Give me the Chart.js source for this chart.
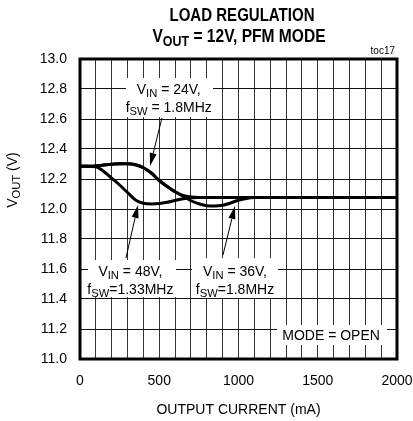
<!DOCTYPE html>
<html>
<head>
<meta charset="utf-8">
<script src="https://cdn.jsdelivr.net/npm/chart.js@4/dist/chart.umd.min.js"></script>
<style>
    html, body { margin: 0; padding: 0; background: #fff; }
</style>
</head>
<body>
<canvas id="chart1" width="413" height="421"></canvas>
<script>
// output current (mA) shared by every curve
const currents = [0, 50, 100, 150, 200, 250, 300, 350, 400, 450, 500, 550, 600, 650, 700, 750,
    800, 850, 900, 950, 1000, 1050, 1100, 1150, 1200, 1500, 2000]

// VOUT (V)
const vin24 = [12.285, 12.285, 12.287, 12.293, 12.298, 12.302, 12.302, 12.295, 12.275, 12.24, 12.19,
    12.15, 12.115, 12.09, 12.08, 12.077, 12.077, 12.077, 12.077, 12.077, 12.077, 12.077, 12.077,
    12.077, 12.077, 12.077, 12.077]
const vin36 = [12.285, 12.285, 12.287, 12.293, 12.298, 12.302, 12.302, 12.295, 12.275, 12.24, 12.19,
    12.15, 12.115, 12.085, 12.055, 12.035, 12.022, 12.02, 12.025, 12.04, 12.058, 12.07, 12.076,
    12.077, 12.077, 12.077, 12.077]
const vin48 = [12.285, 12.285, 12.282, 12.25, 12.205, 12.16, 12.11, 12.06, 12.038, 12.033, 12.036,
    12.045, 12.057, 12.068, 12.075, 12.077, 12.077, 12.077, 12.077, 12.077, 12.077, 12.077, 12.077,
    12.077, 12.077, 12.077, 12.077]

const xLabels = [0, 500, 1000, 1500, 2000]

const FONT = "'Liberation Sans Narrow', 'Arial Narrow', 'Liberation Sans', Arial, sans-serif"

// callouts, anchored in data units (mA, V)
const callouts = [
    { box: [290, 839, 12.873, 12.613],
      lines: [[["V"], ["IN", 1], [" = 24V,"]], [["f"], ["SW", 1], [" = 1.8MHz"]]],
      at: [560, 12.80], arrow: [517, 12.607, 442, 12.287] },
    { box: [50, 606, 11.66, 11.413],
      lines: [[["V"], ["IN", 1], [" = 48V,"]], [["f"], ["SW", 1], ["=1.33MHz"]]],
      at: [318, 11.587], arrow: [290, 11.673, 366, 12.027] },
    { box: [707, 1249, 11.673, 11.407],
      lines: [[["V"], ["IN", 1], [" = 36V,"]], [["f"], ["SW", 1], ["=1.8MHz"]]],
      at: [978, 11.587], arrow: [902, 11.693, 978, 12.02] },
    { box: [1243, 1937, 11.227, 11.093],
      lines: [[["MODE = OPEN"]]],
      at: [1584, 11.16] },
]

function richWidth(ctx, parts, size, weight) {
    let w = 0
    for (const p of parts) {
        ctx.font = weight + " " + (p[1] ? size * 0.8 : size) + "px " + FONT
        w += ctx.measureText(p[0]).width
    }
    return w
}

function drawRich(ctx, parts, cx, cy, size, weight, fitW) {
    const w = richWidth(ctx, parts, size, weight)
    const s = fitW ? fitW / w : 1
    ctx.save()
    ctx.translate(cx, cy)
    ctx.scale(s, 1)
    ctx.fillStyle = "#000"
    ctx.textBaseline = "alphabetic"
    ctx.textAlign = "left"
    let x = -w / 2
    for (const p of parts) {
        const sz = p[1] ? size * 0.8 : size
        ctx.font = weight + " " + sz + "px " + FONT
        ctx.fillText(p[0], x, size * 0.36 + (p[1] ? size * 0.22 : 0))
        x += ctx.measureText(p[0]).width
    }
    ctx.restore()
}

function arrow(ctx, x1, y1, x2, y2) {
    const a = Math.atan2(y2 - y1, x2 - x1)
    const len = 13, half = 3.5
    ctx.save()
    ctx.strokeStyle = "#000"
    ctx.fillStyle = "#000"
    ctx.lineWidth = 1
    ctx.beginPath()
    ctx.moveTo(x1, y1)
    ctx.lineTo(x2 - Math.cos(a) * len, y2 - Math.sin(a) * len)
    ctx.stroke()
    ctx.beginPath()
    ctx.moveTo(x2, y2)
    ctx.lineTo(x2 - Math.cos(a) * len - Math.sin(a) * half, y2 - Math.sin(a) * len + Math.cos(a) * half)
    ctx.lineTo(x2 - Math.cos(a) * len + Math.sin(a) * half, y2 - Math.sin(a) * len - Math.cos(a) * half)
    ctx.closePath()
    ctx.fill()
    ctx.restore()
}

const decor = {
    id: "decor",
    beforeDatasetsDraw(chart) {
        const { ctx, scales: { x, y } } = chart
        ctx.save()
        ctx.fillStyle = "#fff"
        for (const c of callouts) {
            const [x1, x2, y1, y2] = c.box
            const l = x.getPixelForValue(x1), r = x.getPixelForValue(x2)
            const t = y.getPixelForValue(y1), b = y.getPixelForValue(y2)
            ctx.fillRect(l, t, r - l, b - t)
        }
        ctx.restore()
    },
    afterDraw(chart) {
        const { ctx, chartArea: a, scales: { x, y } } = chart

        // frame
        ctx.save()
        ctx.strokeStyle = "#000"
        ctx.lineWidth = 3
        ctx.strokeRect(a.left, a.top, a.right - a.left, a.bottom - a.top)
        ctx.restore()

        // callout texts and arrows
        for (const c of callouts) {
            const cx = x.getPixelForValue(c.at[0])
            let cy = y.getPixelForValue(c.at[1])
            for (const line of c.lines) {
                drawRich(ctx, line, cx, cy, 14, "normal")
                cy += 18
            }
            if (c.arrow) {
                arrow(ctx, x.getPixelForValue(c.arrow[0]), y.getPixelForValue(c.arrow[1]),
                    x.getPixelForValue(c.arrow[2]), y.getPixelForValue(c.arrow[3]))
            }
        }

        // titles
        drawRich(ctx, [["LOAD REGULATION"]], 242, 15, 18, "bold", 145)
        drawRich(ctx, [["V"], ["OUT", 1], [" = 12V, PFM MODE"]], 239, 36, 18, "bold", 173)

        // small figure tag
        ctx.save()
        ctx.font = "10px " + FONT
        ctx.fillStyle = "#000"
        ctx.textAlign = "right"
        ctx.textBaseline = "middle"
        ctx.fillText("toc17", a.right - 2, a.top - 8)
        ctx.restore()

        // y axis title
        ctx.save()
        ctx.translate(12, 180)
        ctx.rotate(-Math.PI / 2)
        drawRich(ctx, [["V"], ["OUT", 1], [" (V)"]], 0, 0, 14, "normal")
        ctx.restore()

        // x axis title
        drawRich(ctx, [["OUTPUT CURRENT (mA)"]], (a.left + a.right) / 2, 409, 14, "normal")
    }
}

function series(vals) {
    return currents.map((c, i) => ({ x: c, y: vals[i] }))
}

const lineStyle = {
    borderColor: "#000",
    borderWidth: 3,
    pointRadius: 0,
    fill: false,
    cubicInterpolationMode: "monotone",
}

new Chart(document.getElementById("chart1").getContext("2d"), {
    type: "line",
    data: {
        datasets: [
            { label: "VIN = 24V", data: series(vin24), ...lineStyle },
            { label: "VIN = 36V", data: series(vin36), ...lineStyle },
            { label: "VIN = 48V", data: series(vin48), ...lineStyle },
        ]
    },
    options: {
        responsive: false,
        animation: false,
        devicePixelRatio: 1,
        layout: { padding: { top: 59, right: 16, left: 0, bottom: 0 } },
        plugins: {
            legend: { display: false },
            tooltip: { enabled: false },
        },
        scales: {
            x: {
                type: "linear",
                min: 0,
                max: 2000,
                afterFit(s) {
                    s.height = 62
                    s.paddingLeft = 0
                    s.paddingRight = 0
                },
                border: { display: false },
                grid: { color: "#333", lineWidth: 1, drawTicks: false },
                ticks: {
                    stepSize: 100,
                    autoSkip: false,
                    maxRotation: 0,
                    padding: 14,
                    color: "#000",
                    font: { family: FONT, size: 14 },
                    callback: v => xLabels.includes(v) ? String(v) : "",
                },
            },
            y: {
                min: 11,
                max: 13,
                afterFit(s) { s.width = 80 },
                border: { display: false },
                grid: { color: "#111", lineWidth: 1, drawTicks: false },
                ticks: {
                    stepSize: 0.2,
                    padding: 13,
                    color: "#000",
                    font: { family: FONT, size: 14 },
                    callback: v => v.toFixed(1),
                },
            },
        },
    },
    plugins: [decor],
})
</script>
</body>
</html>
